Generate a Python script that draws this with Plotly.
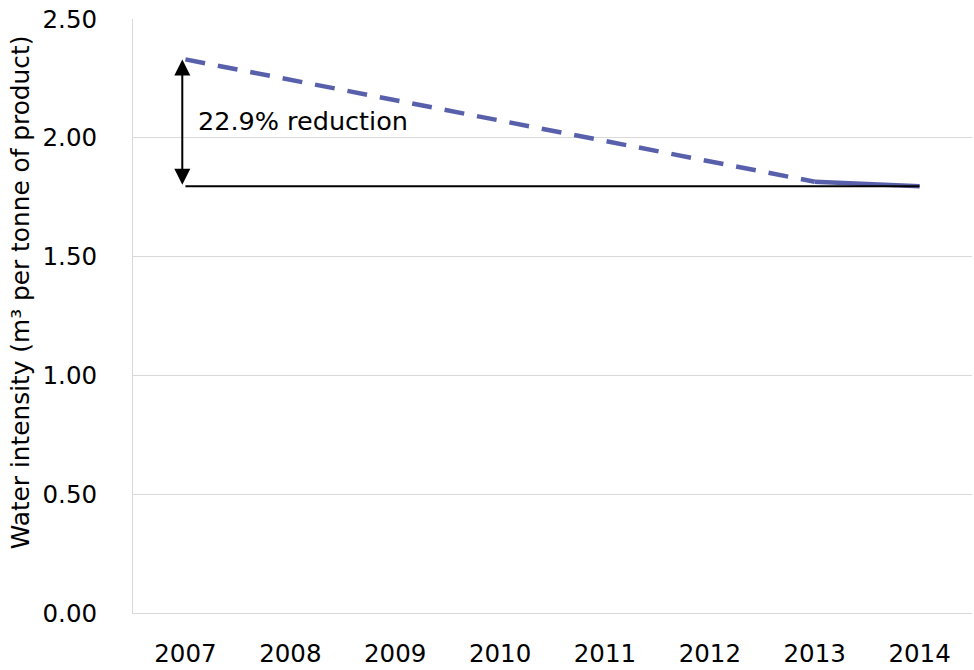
import plotly.graph_objects as go

# Water intensity by year (m3 per tonne of product)
years = ["2007", "2008", "2009", "2010", "2011", "2012", "2013", "2014"]
trend_years = ["2007", "2013"]          # dashed trajectory
trend_values = [2.33, 1.815]
recent_years = ["2013", "2014"]         # solid, latest period
recent_values = [1.815, 1.796]

y_ticks = [0.0, 0.5, 1.0, 1.5, 2.0, 2.5]

start_value = trend_values[0]
end_value = recent_values[-1]
reduction_pct = (1 - end_value / start_value) * 100
label_y = 2.07
first_idx = years.index(trend_years[0])

FONT = "DejaVu Sans"
SERIES_COLOR = "#5960ab"
GRID = "#d9d9d9"

fig = go.Figure()

fig.add_trace(go.Scatter(
    x=trend_years, y=trend_values, mode="lines",
    line=dict(color=SERIES_COLOR, width=4.5, dash="20px,13px"),
    hoverinfo="skip", showlegend=False,
))
fig.add_trace(go.Scatter(
    x=recent_years, y=recent_values, mode="lines",
    line=dict(color=SERIES_COLOR, width=4.5),
    hoverinfo="skip", showlegend=False,
))
# Baseline at the latest value across the whole period
fig.add_trace(go.Scatter(
    x=[years[0], years[-1]], y=[end_value, end_value], mode="lines",
    line=dict(color="black", width=2),
    hoverinfo="skip", showlegend=False,
))

# Double-headed arrow spanning the reduction
fig.add_annotation(
    x=first_idx - 0.03, y=start_value, ax=first_idx - 0.03, ay=end_value,
    xref="x", yref="y", axref="x", ayref="y",
    text="", showarrow=True, arrowhead=2, arrowside="end+start",
    arrowsize=1.6, arrowwidth=2, arrowcolor="black",
)
fig.add_annotation(
    x=first_idx, y=label_y, xref="x", yref="y",
    text=f"{reduction_pct:.1f}% reduction", showarrow=False,
    xanchor="left", yanchor="middle", xshift=11,
    font=dict(family=FONT, size=25.5, color="black"),
)
# Y-axis title
fig.add_annotation(
    x=0, y=0.54, xref="paper", yref="paper", xshift=-113,
    text="Water intensity (m³ per tonne of product)", showarrow=False,
    textangle=-90, xanchor="center", yanchor="middle",
    font=dict(family=FONT, size=24.8, color="black"),
)

fig.update_layout(
    width=974, height=670,
    margin=dict(l=133, r=2, t=19, b=54),
    plot_bgcolor="white", paper_bgcolor="white",
    font=dict(family=FONT, size=24, color="black"),
    showlegend=False,
)
fig.update_xaxes(
    type="category", categoryorder="array", categoryarray=years,
    range=[-0.5, len(years) - 0.5],
    showgrid=False, showline=True, linecolor=GRID, linewidth=1,
    ticks="", ticklabelstandoff=19,
    tickfont=dict(family=FONT, size=24.5, color="black"),
)
fig.update_yaxes(
    range=[0, 2.5], tickvals=y_ticks, tickformat=".2f",
    showgrid=True, gridcolor=GRID, gridwidth=1,
    showline=True, linecolor=GRID, linewidth=1, zeroline=False,
    ticks="", ticklabelstandoff=30,
    tickfont=dict(family=FONT, size=24.5, color="black"),
)

fig.write_html("out.html")
